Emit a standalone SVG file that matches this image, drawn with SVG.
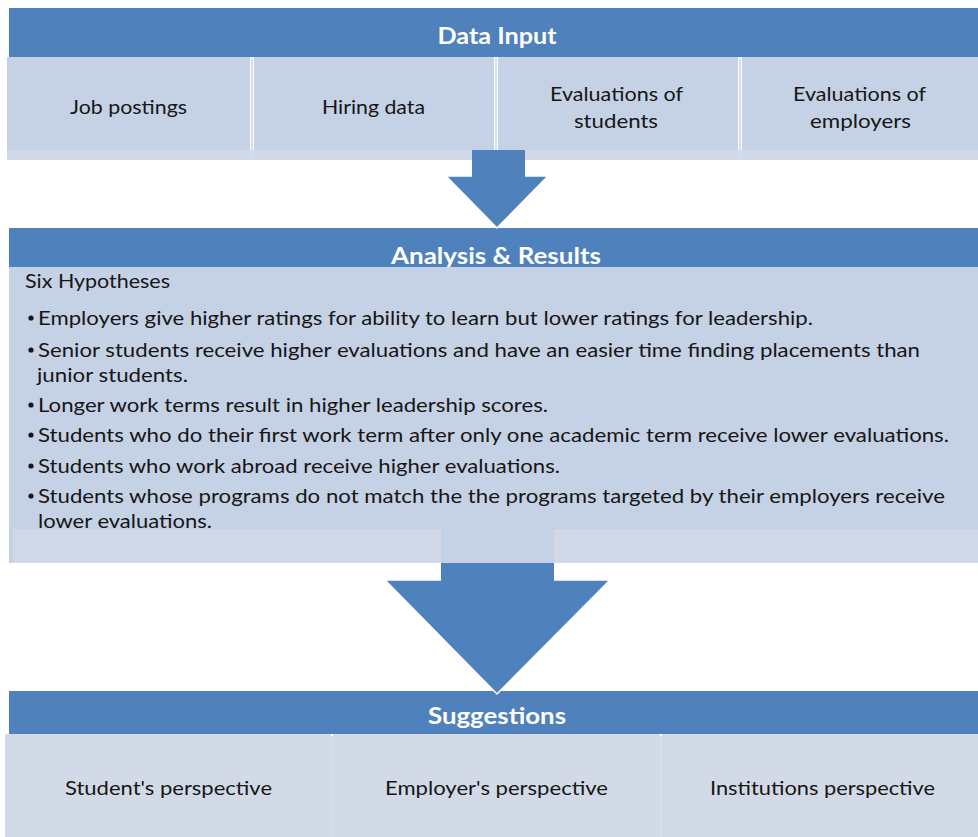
<svg xmlns="http://www.w3.org/2000/svg" width="978" height="837" viewBox="0 0 978 837">
  <style>
    .hdr { fill: #4F81BD; }
    .hdr-text { font-family: Lato, "Liberation Sans", sans-serif; font-size: 23px; font-weight: bold; fill: #FFFFFF; text-anchor: middle; }
    .cell { fill: #C5D1E4; }
    .cell-low { fill: #D3DAE7; }
    .strip { fill: #D1D9E8; }
    .sep { stroke: #D6DEEB; stroke-width: 2; }
    .label { font-family: Lato, "Liberation Sans", sans-serif; font-size: 20px; fill: #161616; text-anchor: middle; }
    .body { font-family: Lato, "Liberation Sans", sans-serif; font-size: 20px; fill: #161616; }
    .bullet { fill: #161616; }
    .arrow { fill: #4F81BD; }
    .arrow-edge { fill: none; stroke: #FFFFFF; stroke-width: 1.5; stroke-linejoin: miter; }
  </style>

  <rect width="978" height="837" fill="#FFFFFF"/>

  <!-- Data input stage -->
  <g id="data-input">
    <rect class="hdr" x="9" y="8" width="969" height="49"/>
    <text class="hdr-text" x="497" y="44" textLength="119" lengthAdjust="spacingAndGlyphs">Data Input</text>
    <rect class="cell" x="7" y="57" width="243" height="93"/>
    <rect class="cell" x="254" y="57" width="240" height="93"/>
    <rect class="cell" x="498" y="57" width="240" height="93"/>
    <rect class="cell" x="742" y="57" width="236" height="93"/>
    <rect class="strip" x="7" y="150" width="465" height="10"/>
    <rect class="strip" x="525" y="150" width="453" height="10"/>
    <line class="sep" x1="252" y1="58" x2="252" y2="160"/>
    <line class="sep" x1="496" y1="58" x2="496" y2="150"/>
    <line class="sep" x1="740" y1="58" x2="740" y2="160"/>
    <text class="label" x="128.5" y="114" textLength="117" lengthAdjust="spacingAndGlyphs">Job postings</text>
    <text class="label" x="373.5" y="114" textLength="103" lengthAdjust="spacingAndGlyphs">Hiring data</text>
    <text class="label" x="616.5" y="101" textLength="133" lengthAdjust="spacingAndGlyphs">Evaluations of</text>
    <text class="label" x="616" y="128" textLength="84" lengthAdjust="spacingAndGlyphs">students</text>
    <text class="label" x="859.5" y="101" textLength="133" lengthAdjust="spacingAndGlyphs">Evaluations of</text>
    <text class="label" x="860.5" y="128" textLength="101" lengthAdjust="spacingAndGlyphs">employers</text>
  </g>

  <!-- Analysis stage -->
  <g id="analysis">
    <rect class="hdr" x="9" y="228" width="969" height="39"/>
    <text class="hdr-text" x="496" y="264" textLength="210" lengthAdjust="spacingAndGlyphs">Analysis &amp; Results</text>
    <rect class="cell" x="9" y="267" width="969" height="296"/>
    <rect class="strip" x="13" y="529" width="428" height="34"/>
    <rect class="strip" x="554" y="529" width="424" height="34"/>
    <text class="body" x="25" y="288" textLength="145" lengthAdjust="spacingAndGlyphs">Six Hypotheses</text>
    <g class="bullets">
      <circle class="bullet" cx="31" cy="318" r="2.6"/>
      <circle class="bullet" cx="31" cy="350" r="2.6"/>
      <circle class="bullet" cx="31" cy="405" r="2.6"/>
      <circle class="bullet" cx="31" cy="435" r="2.6"/>
      <circle class="bullet" cx="31" cy="466" r="2.6"/>
      <circle class="bullet" cx="31" cy="496" r="2.6"/>
    </g>
    <text class="body" x="38" y="325" textLength="775" lengthAdjust="spacingAndGlyphs">Employers give higher ratings for ability to learn but lower ratings for leadership.</text>
    <text class="body" x="38" y="357" textLength="882" lengthAdjust="spacingAndGlyphs">Senior students receive higher evaluations and have an easier time finding placements than</text>
    <text class="body" x="37" y="382" textLength="151" lengthAdjust="spacingAndGlyphs">junior students.</text>
    <text class="body" x="38" y="412" textLength="510" lengthAdjust="spacingAndGlyphs">Longer work terms result in higher leadership scores.</text>
    <text class="body" x="38" y="442" textLength="911" lengthAdjust="spacingAndGlyphs">Students who do their first work term after only one academic term receive lower evaluations.</text>
    <text class="body" x="38" y="473" textLength="522" lengthAdjust="spacingAndGlyphs">Students who work abroad receive higher evaluations.</text>
    <text class="body" x="38" y="503" textLength="907" lengthAdjust="spacingAndGlyphs">Students whose programs do not match the the programs targeted by their employers receive</text>
    <text class="body" x="38" y="528" textLength="174" lengthAdjust="spacingAndGlyphs">lower evaluations.</text>
  </g>

  <!-- Suggestions stage -->
  <g id="suggestions">
    <rect class="hdr" x="9" y="691" width="969" height="43"/>
    <text class="hdr-text" x="497" y="724" textLength="138" lengthAdjust="spacingAndGlyphs">Suggestions</text>
    <rect class="cell-low" x="5" y="734" width="326" height="103"/>
    <rect class="cell-low" x="333" y="734" width="327" height="103"/>
    <rect class="cell-low" x="662" y="734" width="316" height="103"/>
    <line class="sep" x1="332" y1="736" x2="332" y2="837"/>
    <line class="sep" x1="661" y1="736" x2="661" y2="837"/>
    <text class="label" x="168.5" y="795" textLength="207" lengthAdjust="spacingAndGlyphs">Student's perspective</text>
    <text class="label" x="496.5" y="795" textLength="223" lengthAdjust="spacingAndGlyphs">Employer's perspective</text>
    <text class="label" x="822.5" y="795" textLength="225" lengthAdjust="spacingAndGlyphs">Institutions perspective</text>
  </g>

  <!-- Flow arrows between stages: fill, then a white rim on the head only -->
  <g id="connectors">
    <polygon class="arrow" points="472,150 525,150 525,176 548,176 497,228 446,176 472,176"/>
    <polyline class="arrow-edge" points="525,176 548,176 497,228 446,176 472,176"/>
    <polygon class="arrow" points="441,563 554,563 554,580 610,580 497,694 385,580 441,580"/>
    <polyline class="arrow-edge" points="554,580 610,580 497,694 385,580 441,580"/>
  </g>
</svg>
